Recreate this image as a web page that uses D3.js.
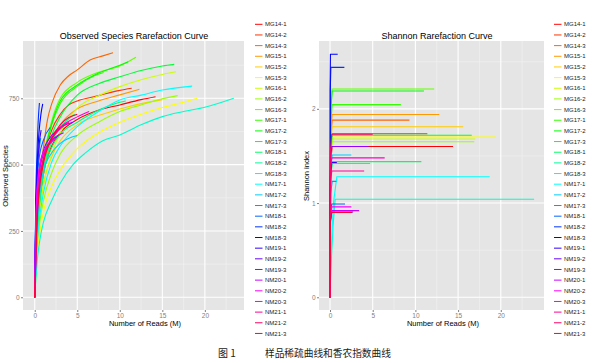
<!DOCTYPE html>
<html>
<head>
<meta charset="utf-8">
<script src="https://cdnjs.cloudflare.com/ajax/libs/d3/7.8.5/d3.min.js"></script>
<style>
  body { margin: 0; background: #fff; }
  text { font-family: "Liberation Sans", Arial, sans-serif; }
</style>
</head>
<body>
<script>

var samples = ["MG14-1","MG14-2","MG14-3","MG15-1","MG15-2","MG15-3","MG16-1","MG16-2","MG16-3",
  "MG17-1","MG17-2","MG17-3","MG18-1","MG18-2","MG18-3","NM17-1","NM17-2","NM17-3",
  "NM18-1","NM18-2","NM18-3","NM19-1","NM19-2","NM19-3","NM20-1","NM20-2","NM20-3",
  "NM21-1","NM21-2","NM21-3"];

// observed species: [reads (M), species], same order as samples
var observedCurves = [
  [[0,0],[0.25,230],[0.5,340],[1,460],[2,570],[3,620],[5,670],[7.5,705],[10,725],[12.5,745],[14.2,756]],
  [[0,0],[0.25,260],[0.5,380],[1,510],[2,630],[3,690],[4,725],[5,740],[7.5,760],[10,780],[11.4,788]],
  [[0,0],[0.25,280],[0.5,420],[1,560],[1.5,670],[2,730],[3,800],[4,835],[5,857],[6.5,894],[8,910],[9.2,922]],
  [[0,0],[0.25,230],[0.5,340],[1,460],[2,590],[3,650],[5,710],[7.5,740],[10,763],[12.3,784]],
  [[0,0],[0.25,200],[0.5,300],[1,420],[2,530],[3,590],[5,650],[7.5,685],[10,710],[12.5,730],[15,745]],
  [[0,0],[0.25,140],[0.5,220],[1,320],[2,420],[3,480],[5,560],[7.5,620],[10,660],[12.5,690],[15,715],[17.5,735],[19.1,750]],
  [[0,0],[0.25,210],[0.5,310],[1,420],[2,540],[3,620],[5,713],[7.5,760],[10,794],[12.5,820],[15,840],[16.6,850]],
  [[0,0],[0.25,170],[0.5,260],[1,360],[2,470],[3,540],[5,610],[7.5,660],[10,700],[12.5,725],[15,748],[16.8,760]],
  [[0,0],[0.25,270],[0.5,400],[1,520],[2,665],[3,750],[5,810],[7.5,848],[10,872],[11.9,905]],
  [[0,0],[0.25,260],[0.5,390],[1,510],[2,650],[3,730],[5,795],[7,835],[8.1,847]],
  [[0,0],[0.25,265],[0.5,395],[1,515],[2,655],[3,740],[5,800],[7.5,845],[10,875],[11,888]],
  [[0,0],[0.25,220],[0.5,330],[1,470],[2,610],[3,680],[5,762],[7.5,805],[10,831],[12.5,855],[15,872],[16.4,878]],
  [[0,0],[0.25,220],[0.5,330],[1,460],[2,565],[3,615],[5,660],[7.5,705],[10,735],[10.7,740]],
  [[0,0],[0.25,240],[0.5,350],[1,480],[2,585],[3,640],[4.7,690]],
  [[0,0],[0.3,140],[0.6,216],[1,280],[2,365],[3,430],[4.5,500],[6,545],[8,590],[10,612],[12.5,650],[15,681],[17.5,700],[20,716],[23.4,750]],
  [[0,0],[0.25,190],[0.5,280],[1,390],[2,510],[3,570],[5,643],[7.5,700],[10,744],[12.5,762],[15,781],[18.5,796]],
  [[0,0],[0.25,250],[0.5,370],[1,470],[2,545],[3,580],[5,610]],
  [[0,0],[0.1,250],[0.25,420],[0.5,550],[0.7,600]],
  [[0,0],[0.1,260],[0.25,420],[0.5,520],[1,590],[1.8,640]],
  [[0,0],[0.1,330],[0.25,530],[0.4,660],[0.55,732]],
  [[0,0],[0.1,280],[0.25,470],[0.5,620],[0.75,695],[0.94,729]],
  [[0,0],[0.1,270],[0.25,440],[0.5,570],[0.75,630]],
  [[0,0],[0.1,230],[0.25,380],[0.5,470],[1,540],[2,590],[2.7,610]],
  [[0,0],[0.1,220],[0.25,370],[0.5,470],[1,550],[2,610],[3,640],[4.5,660]],
  [[0,0],[0.1,240],[0.25,380],[0.5,470],[1,540],[2,590],[3.4,620]],
  [[0,0],[0.1,250],[0.25,390],[0.5,480],[1,545],[2,585],[2.5,600]],
  [[0,0],[0.25,300],[0.5,420],[1,520],[2,600],[3,640],[5,680],[6.4,700]],
  [[0,0],[0.25,290],[0.5,410],[1,510],[2,595],[3,635],[4,660]],
  [[0,0],[0.25,300],[0.5,420],[1,520],[2,600],[3,640]],
  [[0,0],[0.25,270],[0.5,390],[1,500],[2,600],[3,650],[5,690]]
];

// shannon index: [reads (M), index]
var shannonCurves = [
  [[0,0],[0.08,1.45],[0.25,1.60],[14.4,1.60]],
  [[0,0],[0.08,1.55],[0.25,1.735],[11.4,1.735]],
  [[0,0],[0.08,1.70],[0.25,1.88],[9.3,1.88]],
  [[0,0],[0.08,1.75],[0.25,1.94],[12.8,1.94]],
  [[0,0],[0.08,1.62],[0.25,1.81],[15.6,1.81]],
  [[0,0],[0.08,1.52],[0.25,1.70],[19.4,1.70]],
  [[0,0],[0.08,1.50],[0.25,1.68],[17.0,1.68]],
  [[0,0],[0.08,1.48],[0.25,1.65],[16.9,1.65]],
  [[0,0],[0.08,1.98],[0.25,2.21],[12.2,2.21]],
  [[0,0],[0.08,1.83],[0.25,2.045],[8.3,2.045]],
  [[0,0],[0.08,1.96],[0.25,2.19],[11.0,2.19]],
  [[0,0],[0.08,1.55],[0.25,1.72],[16.6,1.72]],
  [[0,0],[0.08,1.29],[0.25,1.44],[10.7,1.44]],
  [[0,0],[0.08,1.28],[0.25,1.42],[4.7,1.42]],
  [[0,0],[0.1,0.3],[0.35,0.75],[0.6,1.04],[23.9,1.04]],
  [[0,0],[0.1,0.4],[0.4,1.0],[0.8,1.28],[18.7,1.28]],
  [[0,0],[0.08,1.35],[0.25,1.51],[2.5,1.51]],
  [[0,0],[0.08,1.1],[0.25,1.23],[0.75,1.23]],
  [[0,0],[0.05,0.88],[0.2,0.99],[1.76,0.99]],
  [[0,0],[0.03,2.2],[0.1,2.44],[1.68,2.44]],
  [[0,0],[0.02,2.3],[0.05,2.58],[0.9,2.58]],
  [[0,0],[0.05,1.28],[0.2,1.43],[0.8,1.43]],
  [[0,0],[0.05,0.81],[0.2,0.905],[2.7,0.905]],
  [[0,0],[0.05,1.43],[0.2,1.60],[4.5,1.60]],
  [[0,0],[0.05,0.82],[0.2,0.92],[3.4,0.92]],
  [[0,0],[0.05,0.86],[0.2,0.96],[2.5,0.96]],
  [[0,0],[0.05,1.33],[0.2,1.48],[6.4,1.48]],
  [[0,0],[0.05,1.2],[0.2,1.34],[4.0,1.34]],
  [[0,0],[0.05,1.55],[0.2,1.73],[5.0,1.73]],
  [[0,0],[0.05,0.8],[0.2,0.9],[2.6,0.9]]
];

var readTicks = [0, 5, 10, 15, 20];
var readMinor = [2.5, 7.5, 12.5, 17.5, 22.5];
var obsTicks = [0, 250, 500, 750];
var obsMinor = [125, 375, 625, 875];
var shanTicks = [0, 1, 2];
var shanMinor = [0.5, 1.5, 2.5];

var w = 600, h = 363;
var svg = d3.select('body').append('svg')
  .attr('width', w)
  .attr('height', h);

var color = (i) => d3.hsl(i * 360 / samples.length, 1, 0.5).toString();

var drawPanel = (p) => {
  var x = d3.scaleLinear().domain(p.xdom).range([p.left, p.right]);
  var y = d3.scaleLinear().domain(p.ydom).range([p.bottom, p.top]);
  var g = svg.append('g');

  g.append('rect')
    .attr('x', p.left).attr('y', p.top)
    .attr('width', p.right - p.left).attr('height', p.bottom - p.top)
    .attr('fill', '#e5e5e5');

  // minor then major grid
  g.selectAll('.vminor').data(p.xminor).enter().append('line')
    .attr('x1', d => x(d)).attr('x2', d => x(d))
    .attr('y1', p.top).attr('y2', p.bottom)
    .attr('stroke', '#f2f2f2').attr('stroke-width', 0.6);
  g.selectAll('.hminor').data(p.yminor).enter().append('line')
    .attr('x1', p.left).attr('x2', p.right)
    .attr('y1', d => y(d)).attr('y2', d => y(d))
    .attr('stroke', '#f2f2f2').attr('stroke-width', 0.6);
  g.selectAll('.vmajor').data(p.xticks).enter().append('line')
    .attr('x1', d => x(d)).attr('x2', d => x(d))
    .attr('y1', p.top).attr('y2', p.bottom)
    .attr('stroke', '#fff').attr('stroke-width', 1.1);
  g.selectAll('.hmajor').data(p.yticks).enter().append('line')
    .attr('x1', p.left).attr('x2', p.right)
    .attr('y1', d => y(d)).attr('y2', d => y(d))
    .attr('stroke', '#fff').attr('stroke-width', 1.1);

  var xAxis = g.append('g')
    .attr('transform', 'translate(0,' + p.bottom + ')')
    .call(d3.axisBottom(x).tickValues(p.xticks).tickFormat(d3.format('d')).tickSize(2).tickPadding(1.5));
  var yAxis = g.append('g')
    .attr('transform', 'translate(' + p.left + ',0)')
    .call(d3.axisLeft(y).tickValues(p.yticks).tickFormat(d3.format('d')).tickSize(2).tickPadding(1.5));
  [xAxis, yAxis].forEach(a => {
    a.select('.domain').remove();
    a.selectAll('line').attr('stroke', '#7f7f7f');
    a.selectAll('text').attr('fill', '#7f7f7f')
      .style('font-size', '6.5px')
      .style('font-family', '"Liberation Sans", Arial, sans-serif');
  });

  var line = d3.line()
    .x(d => x(d[0]))
    .y(d => y(d[1]))
    .curve(p.curve);

  g.selectAll('.curve').data(p.curves).enter().append('path')
    .attr('d', line)
    .attr('fill', 'none')
    .attr('stroke', (d, i) => color(i))
    .attr('stroke-width', 1.1);

  g.append('text')
    .attr('x', p.titleX).attr('y', 39)
    .attr('text-anchor', 'middle')
    .style('font-size', '9px')
    .text(p.title);

  g.append('text')
    .attr('x', p.xlabX).attr('y', 326)
    .attr('text-anchor', 'middle')
    .style('font-size', '7.5px')
    .text('Number of Reads (M)');

  g.append('text')
    .attr('transform', 'translate(' + p.ylabX + ',176) rotate(-90)')
    .attr('text-anchor', 'middle')
    .style('font-size', '7.5px')
    .text(p.ylab);

  // legend
  var leg = g.selectAll('.leg').data(samples).enter().append('g')
    .attr('transform', (d, i) => 'translate(' + p.legX + ',' + (24.3 + i * 10.66) + ')');
  leg.append('line')
    .attr('x1', 0).attr('x2', 7.5)
    .attr('stroke', (d, i) => color(i))
    .attr('stroke-width', 1);
  leg.append('text')
    .attr('x', 10).attr('dy', '0.35em')
    .style('font-size', '6px')
    .attr('fill', '#222')
    .text(d => d);
};

drawPanel({
  left: 23, right: 244, top: 41, bottom: 310,
  xdom: [-1.38, 24.6], ydom: [-48, 966],
  xticks: readTicks, xminor: readMinor, yticks: obsTicks, yminor: obsMinor,
  curves: observedCurves, curve: d3.curveMonotoneX,
  title: 'Observed Species Rarefaction Curve', titleX: 134,
  xlabX: 145, ylab: 'Observed Species', ylabX: 8,
  legX: 255
});

drawPanel({
  left: 319, right: 544, top: 41, bottom: 310,
  xdom: [-1.29, 25.06], ydom: [-0.135, 2.72],
  xticks: readTicks, xminor: readMinor, yticks: shanTicks, yminor: shanMinor,
  curves: shannonCurves, curve: d3.curveLinear,
  title: 'Shannon Rarefaction Curve', titleX: 437,
  xlabX: 443, ylab: 'Shannon index', ylabX: 309,
  legX: 554
});

svg.append('text')
  .attr('x', 218).attr('y', 357)
  .style('font-family', '"Noto Sans CJK SC", sans-serif')
  .style('font-size', '10px')
  .attr('fill', '#222')
  .text('图 1');
svg.append('text')
  .attr('x', 265).attr('y', 357)
  .style('font-family', '"Noto Sans CJK SC", sans-serif')
  .style('font-size', '9.7px')
  .attr('fill', '#222')
  .text('样品稀疏曲线和香农指数曲线');

</script>
</body>
</html>
